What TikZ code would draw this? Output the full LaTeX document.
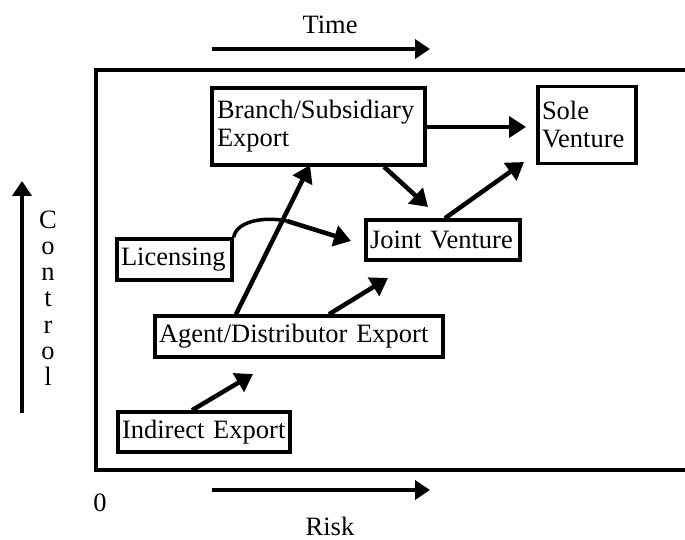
\documentclass[tikz,border=0pt]{standalone}
\usepackage{fontspec}
\setmainfont{Liberation Serif}
\usetikzlibrary{arrows.meta}
\begin{document}
\begin{tikzpicture}[x=1pt,y=-1pt,
  txt/.style={font=\fontsize{26.5}{28}\selectfont},
  box/.style={draw, line width=3.5pt, inner sep=0pt, align=left, txt},
  conn/.style={line width=4.5pt, -{Triangle[length=17pt,width=21pt]}},
  axisarrow/.style={line width=4.5pt, -{Triangle[length=15pt,width=19pt]}},
  lbl/.style={txt, inner sep=0pt}]
\useasboundingbox (0,0) rectangle (685,540);

% frame
\coordinate (fTR) at (685,70);
\coordinate (fTL) at (96,70);
\coordinate (fBL) at (96,470);
\coordinate (fBR) at (685,470);
\draw[line width=4pt] (fTR) -- (fTL) -- (fBL) -- (fBR);

% axes
\node[lbl] (time) at (330,25) {Time};
\coordinate (ta) at (212,49);
\coordinate (tb) at (430,49);
\draw[axisarrow] (ta) -- (tb);

\coordinate (ra) at (212,490);
\coordinate (rb) at (430,490);
\draw[axisarrow] (ra) -- (rb);
\node[lbl] (risk) at (330,526) {Risk};
\node[lbl] (zero) at (100,503) {0};

\coordinate (ca) at (22,413);
\coordinate (cb) at (22,181);
\draw[axisarrow] (ca) -- (cb);
\foreach \ch [count=\i] in {C,o,n,t,r,o,l}
  \node[lbl, anchor=base] (ctl\i) at (48,{228+26.3*(\i-1)}) {\ch};

% boxes
\node[box, minimum width=213pt, minimum height=77pt, text width=203pt] (branch) at (318.5,126.5) {Branch/Subsidiary\\Export};
\node[box, minimum width=98pt, minimum height=77pt, text width=90pt] (sole) at (587,125) {Sole\\Venture};
\node[box, minimum width=154pt, minimum height=40pt, text width=146pt] (joint) at (443,240) {Joint Venture};
\node[box, minimum width=115pt, minimum height=41pt, text width=107pt] (lic) at (174.5,259.5) {Licensing};
\node[box, minimum width=288pt, minimum height=41pt, text width=280pt] (agent) at (299,336.5) {Agent/Distributor Export};
\node[box, minimum width=172pt, minimum height=40pt, text width=164pt] (indirect) at (204,432) {Indirect Export};

% free arrow ends
\coordinate (e1) at (253,374);
\coordinate (e2) at (388,278);
\coordinate (e3) at (351,241);
\coordinate (e4) at (428,207);
\coordinate (e5) at (526,127);
\coordinate (e6) at (524,162);
\coordinate (e7) at (310,165);
\coordinate (k1) at (287,221);

% connectors
\draw[conn] (192,0 |- indirect.north) -- (e1);
\draw[conn] (236,0 |- agent.north) -- (e7);
\draw[conn] (329,0 |- agent.north) -- (e2);
\draw[line width=3.5pt] (lic.north east) .. controls (236,222) and (262,216) .. (k1);
\draw[conn] (k1) -- (e3);
\draw[conn] (384,0 |- branch.south) -- (e4);
\draw[conn] (branch.east |- 0,127) -- (e5);
\draw[conn] (445,0 |- joint.north) -- (e6);
\end{tikzpicture}
\end{document}
